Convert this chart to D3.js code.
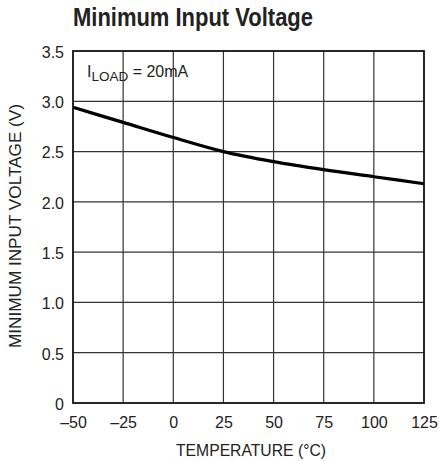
<!DOCTYPE html>
<html>
<head>
<meta charset="utf-8">
<script src="https://cdn.jsdelivr.net/npm/d3@7"></script>
<style>
  body { margin: 0; background: #fff; }
  text { font-family: "Liberation Sans", Arial, sans-serif; }
</style>
</head>
<body>
<script>
const temps = [-50, -25, 0, 25, 50, 75, 100, 125];
const vmin = [2.94, 2.79, 2.64, 2.50, 2.40, 2.32, 2.25, 2.18];
const yTicks = [0, 0.5, 1.0, 1.5, 2.0, 2.5, 3.0, 3.5];
const yLabels = ["0", "0.5", "1.0", "1.5", "2.0", "2.5", "3.0", "3.5"];
const xLabels = ["\u201350", "\u201325", "0", "25", "50", "75", "100", "125"];

const W = 439, H = 461;
const L = 73, R = 424, T = 51, B = 403;

const svg = d3.select("body").append("svg")
  .attr("width", W)
  .attr("height", H);

const x = d3.scaleLinear().domain([-50, 125]).range([L, R]);
const y = d3.scaleLinear().domain([0, 3.5]).range([B, T]);

// grid
svg.append("g")
  .selectAll("line")
  .data(temps.slice(1, -1))
  .enter().append("line")
  .attr("x1", d => x(d)).attr("x2", d => x(d))
  .attr("y1", T).attr("y2", B)
  .attr("stroke", "#333").attr("stroke-width", 1.2);

svg.append("g")
  .selectAll("line")
  .data(yTicks.slice(1, -1))
  .enter().append("line")
  .attr("x1", L).attr("x2", R)
  .attr("y1", d => y(d)).attr("y2", d => y(d))
  .attr("stroke", "#333").attr("stroke-width", 1.2);

// curve
const line = d3.line()
  .x((d, i) => x(temps[i]))
  .y(d => y(d))
  .curve(d3.curveMonotoneX);

svg.append("path")
  .datum(vmin)
  .attr("d", line)
  .attr("fill", "none")
  .attr("stroke", "#000")
  .attr("stroke-width", 3.2);

// frame
svg.append("rect")
  .attr("x", L).attr("y", T)
  .attr("width", R - L).attr("height", B - T)
  .attr("fill", "none")
  .attr("stroke", "#111")
  .attr("stroke-width", 1.8);

// tick labels
const yAxis = d3.axisLeft(y)
  .tickValues(yTicks)
  .tickSize(0)
  .tickPadding(9)
  .tickFormat((d, i) => yLabels[i]);

svg.append("g")
  .attr("transform", `translate(${L},0)`)
  .call(yAxis)
  .call(g => g.select(".domain").remove())
  .selectAll("text")
  .attr("font-family", null)
  .attr("dy", "0.4em")
  .style("font-size", "16px")
  .attr("fill", "#222");

const xAxis = d3.axisBottom(x)
  .tickValues(temps)
  .tickSize(0)
  .tickPadding(14)
  .tickFormat((d, i) => xLabels[i]);

svg.append("g")
  .attr("transform", `translate(0,${B})`)
  .call(xAxis)
  .call(g => g.select(".domain").remove())
  .selectAll("text")
  .attr("font-family", null)
  .style("font-size", "16px")
  .attr("fill", "#222");

// titles
svg.append("text")
  .attr("x", L)
  .attr("y", 26)
  .attr("textLength", 240)
  .attr("lengthAdjust", "spacingAndGlyphs")
  .style("font-size", "25px")
  .style("font-weight", "bold")
  .attr("fill", "#222")
  .text("Minimum Input Voltage");

svg.append("text")
  .attr("x", 251)
  .attr("y", 456)
  .attr("text-anchor", "middle")
  .attr("textLength", 150)
  .attr("lengthAdjust", "spacingAndGlyphs")
  .style("font-size", "16.5px")
  .attr("fill", "#222")
  .text("TEMPERATURE (\u00B0C)");

svg.append("text")
  .attr("transform", "translate(21,226) rotate(-90)")
  .attr("text-anchor", "middle")
  .attr("textLength", 244)
  .attr("lengthAdjust", "spacingAndGlyphs")
  .style("font-size", "16.5px")
  .attr("fill", "#222")
  .text("MINIMUM INPUT VOLTAGE (V)");

const ann = svg.append("text")
  .attr("x", 87)
  .attr("y", 77)
  .style("font-size", "16px")
  .attr("fill", "#222");
ann.append("tspan").text("I");
ann.append("tspan").attr("dy", 4).style("font-size", "13.5px").text("LOAD");
ann.append("tspan").attr("dy", -4).text(" = 20mA");
</script>
</body>
</html>
